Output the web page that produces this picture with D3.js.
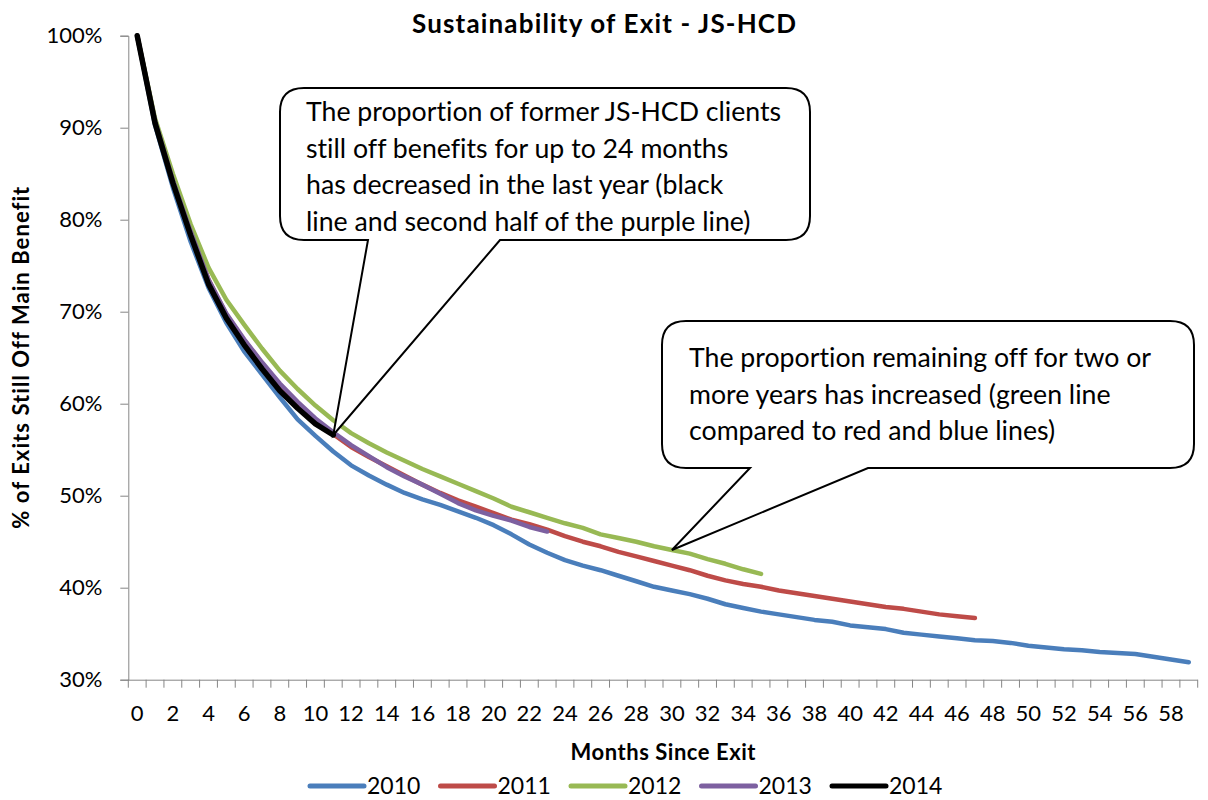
<!DOCTYPE html>
<html><head><meta charset="utf-8">
<script src="https://cdn.jsdelivr.net/npm/d3@7"></script>
<style>
html,body{margin:0;padding:0;background:#fff;}
text{font-family:Lato, "Open Sans", sans-serif;fill:#000;font-variant-ligatures:none;}
</style></head>
<body><svg id="c" width="1208" height="800"></svg>
<script>
const months = d3.range(0, 60);
const xTickLabels = d3.range(0, 60, 2);
const yTicks = [0.3, 0.4, 0.5, 0.6, 0.7, 0.8, 0.9, 1.0];
const seriesNames = ["2010", "2011", "2012", "2013", "2014"];
const seriesColors = ["#4A7EBB", "#BE4B48", "#98B954", "#7D60A0", "#000000"];

const v2010 = [100, 90.3, 83.5, 77.6, 72.6, 68.8, 65.7, 63.2, 60.7, 58.3, 56.5, 54.8, 53.3, 52.2, 51.2, 50.3, 49.6, 49.0, 48.3, 47.6, 46.8, 45.8, 44.7, 43.8, 43.0, 42.4, 41.9, 41.3, 40.7, 40.1, 39.7, 39.3, 38.8, 38.2, 37.8, 37.4, 37.1, 36.8, 36.5, 36.3, 35.9, 35.7, 35.5, 35.1, 34.9, 34.7, 34.5, 34.3, 34.2, 34.0, 33.7, 33.5, 33.3, 33.2, 33.0, 32.9, 32.8, 32.5, 32.2, 31.9];
const v2011 = [100, 90.7, 84.3, 78.7, 73.5, 69.7, 66.9, 64.4, 62.0, 60.0, 58.2, 56.7, 55.3, 54.2, 53.2, 52.2, 51.2, 50.3, 49.5, 48.8, 48.1, 47.4, 46.9, 46.3, 45.6, 45.0, 44.5, 43.9, 43.4, 42.9, 42.4, 41.9, 41.3, 40.8, 40.4, 40.1, 39.7, 39.4, 39.1, 38.8, 38.5, 38.2, 37.9, 37.7, 37.4, 37.1, 36.9, 36.7];
const v2012 = [100, 91.0, 85.0, 79.5, 74.8, 71.3, 68.6, 66.0, 63.6, 61.6, 59.8, 58.2, 56.8, 55.7, 54.7, 53.8, 52.9, 52.1, 51.3, 50.5, 49.7, 48.8, 48.2, 47.6, 47.0, 46.5, 45.8, 45.4, 45.0, 44.5, 44.1, 43.7, 43.1, 42.6, 42.0, 41.5];
const v2013 = [100, 90.7, 84.3, 78.7, 73.5, 69.8, 67.0, 64.5, 62.2, 60.2, 58.4, 56.9, 55.5, 54.3, 53.1, 52.1, 51.2, 50.2, 49.2, 48.4, 47.8, 47.3, 46.6, 46.1];
const v2014 = [100, 90.5, 84.0, 78.3, 73.0, 69.3, 66.4, 63.8, 61.4, 59.5, 57.8, 56.6];
const seriesValues = [v2010, v2011, v2012, v2013, v2014];

const title = "Sustainability of Exit - JS-HCD";
const xTitle = "Months Since Exit";
const yTitle = "% of Exits Still Off Main Benefit";
const note1 = ["The proportion of former JS-HCD clients", "still off benefits for up to 24 months", "has decreased in the last year (black", "line and second half of the purple line)"];
const note2 = ["The proportion remaining off for two or", "more years has increased (green line", "compared to red and blue lines)"];

const svg = d3.select("#c");
const L = 128.3, R = 1197.7, T = 35.7, B = 679.7;
const x = d3.scaleBand().domain(months).range([L, R]).paddingInner(0).paddingOuter(0);
const xc = m => x(m) + x.bandwidth() / 2;
const y = d3.scaleLinear().domain([0.3, 1.0]).range([B, T]);
const axisColor = "#868686";

// Title
svg.append("text").attr("x", 604).attr("y", 33).attr("text-anchor", "middle")
  .attr("font-weight", "bold").attr("font-size", 26)
  .attr("textLength", 384).attr("lengthAdjust", "spacing").text(title);

// Y axis
const yAxis = svg.append("g").attr("transform", `translate(${L},0)`)
  .call(d3.axisLeft(y).tickValues(yTicks).tickFormat(d3.format(".0%")).tickSize(8).tickPadding(18));
yAxis.select(".domain").attr("stroke", axisColor);
yAxis.selectAll(".tick line").attr("stroke", axisColor);
yAxis.selectAll(".tick text").attr("font-size", 22).attr("font-family", "Lato");

// X axis
const xAxis = svg.append("g").attr("transform", `translate(0,${B})`)
  .call(d3.axisBottom(x).tickValues(xTickLabels).tickSize(0).tickPadding(26));
xAxis.select(".domain").attr("stroke", axisColor).attr("d", `M${L},0.5H${R}`);
xAxis.selectAll(".tick text").attr("font-size", 22).attr("font-family", "Lato");
svg.append("g").selectAll("line").data(months.concat([60])).join("line")
  .attr("x1", d => d < 60 ? x(d) : R).attr("x2", d => d < 60 ? x(d) : R)
  .attr("y1", B).attr("y2", B + 8).attr("stroke", axisColor);

// Axis titles
svg.append("text").attr("x", (L + R) / 2).attr("y", 760).attr("text-anchor", "middle")
  .attr("font-weight", "bold").attr("font-size", 22)
  .attr("textLength", 185).attr("lengthAdjust", "spacing").text(xTitle);
svg.append("text").attr("transform", `translate(29,${(T + B) / 2}) rotate(-90)`).attr("text-anchor", "middle")
  .attr("font-weight", "bold").attr("font-size", 22)
  .attr("textLength", 342).attr("lengthAdjust", "spacing").text(yTitle);

// Lines
const line = d3.line().x((d, i) => xc(i)).y(d => y(d / 100)).curve(d3.curveLinear);
seriesValues.forEach((vals, k) => {
  svg.append("path").datum(vals).attr("d", line).attr("fill", "none")
    .attr("stroke", seriesColors[k]).attr("stroke-width", k === 4 ? 5.5 : 4.5)
    .attr("stroke-linejoin", "round").attr("stroke-linecap", "round");
});

// Legend
const lg = svg.append("g");
seriesNames.forEach((n, k) => {
  const lx = 310 + k * 130.5;
  lg.append("line").attr("x1", lx).attr("x2", lx + 54).attr("y1", 786).attr("y2", 786)
    .attr("stroke", seriesColors[k]).attr("stroke-width", 5).attr("stroke-linecap", "round");
  lg.append("text").attr("x", lx + 57).attr("y", 794).attr("font-size", 23).text(n);
});

// Callouts
function callout(x0, y0, x1, y1, r, b0, b1, tx, ty) {
  const p = d3.path();
  p.moveTo(x0 + r, y0);
  p.lineTo(x1 - r, y0);
  p.quadraticCurveTo(x1, y0, x1, y0 + r);
  p.lineTo(x1, y1 - r);
  p.quadraticCurveTo(x1, y1, x1 - r, y1);
  p.lineTo(b1, y1);
  p.lineTo(tx, ty);
  p.lineTo(b0, y1);
  p.lineTo(x0 + r, y1);
  p.quadraticCurveTo(x0, y1, x0, y1 - r);
  p.lineTo(x0, y0 + r);
  p.quadraticCurveTo(x0, y0, x0 + r, y0);
  p.closePath();
  svg.append("path").attr("d", p.toString()).attr("fill", "#fff")
    .attr("stroke", "#000").attr("stroke-width", 2).attr("stroke-linejoin", "miter");
}
callout(280, 88, 810, 240, 24, 368, 500, xc(11), y(v2014[11] / 100));
callout(662, 321, 1194, 468, 24, 750, 868, xc(30), y(v2012[30] / 100));

note1.forEach((t, i) => svg.append("text").attr("x", 306).attr("y", 121 + i * 36.6).attr("font-size", 26.7).text(t));
note2.forEach((t, i) => svg.append("text").attr("x", 689).attr("y", 367 + i * 36.6).attr("font-size", 26.7).text(t));
</script></body></html>
